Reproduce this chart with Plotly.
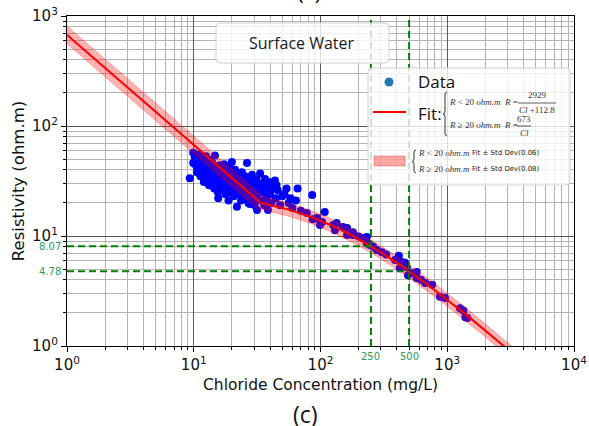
import numpy as np
import plotly.graph_objects as go

# ---------------- data ----------------
chloride = [9.3, 9.9, 9.9, 10.2, 10.4, 10.6, 10.8, 11, 11.1, 11.3, 11.5, 11.6, 11.8, 12, 12, 12.2,
            12.4, 12.5, 12.7, 12.9, 13, 13.2, 13.3, 13.5, 13.7, 13.9, 14, 14.2, 14.3, 14.5, 14.7,
            14.8, 15, 15.2, 15.3, 15.5, 15.6, 15.8, 16, 16.1, 16.3, 16.5, 16.7, 16.9, 17, 17.2,
            17.4, 17.6, 17.8, 18, 18.2, 18.4, 18.6, 18.8, 19, 19.2, 19.4, 19.6, 19.8, 20, 20.2,
            20.5, 20.7, 21, 21.2, 21.5, 21.9, 22, 22.3, 22.6, 23, 23.3, 23.6, 24, 24.3, 24.6, 25,
            25.4, 25.8, 26.3, 26.5, 27, 27.4, 27.8, 28.3, 28.8, 29.2, 29.7, 30.2, 30.7, 31.2,
            31.6, 32, 32.6, 33.4, 34, 34.6, 35.3, 36, 36.8, 37.5, 38.5, 39, 40, 41, 42, 43.7,
            44.5, 46, 48, 50, 54, 56, 60, 66, 70, 78, 86, 94,
            12.1, 13.1, 14.1, 15.1, 16.2, 17.3, 18.3, 19.3, 20.4, 22.8, 24.8, 26.8, 11.4, 12.8,
            14.6, 16.6, 18.5, 21.4, 23.8, 28.5, 40.5, 45, 52, 58, 64, 36.5, 31, 27.6,
            87, 99, 103, 108, 126, 130, 134, 150, 162, 162, 180, 180, 200, 217, 232, 232, 245,
            260, 278, 305, 330, 387, 415, 423, 440, 450, 465, 480, 490, 520, 574, 574, 620, 670,
            760, 875, 960, 1260, 1340, 1390, 1440]
resistivity = [33.5, 57, 46, 52, 44, 38, 48, 41, 55, 35, 45, 50, 39, 42, 31, 47,
               36, 53, 40, 33, 44, 29, 49, 38, 42, 34, 46, 31, 39, 27, 54,
               43, 36, 30, 40, 25, 22, 34, 44, 38, 28, 32, 41, 26, 36, 30,
               45, 33, 24, 39, 28, 35, 31, 21, 42, 27, 33, 37, 25, 47, 30,
               35, 23, 28, 40, 32, 18.4, 26, 36, 29, 24, 33, 21, 38, 27, 30, 23,
               35, 25, 46, 29, 20, 32, 24, 27, 36, 22, 30, 19, 26, 33,
               17.2, 24, 28, 37, 21, 30, 25, 19, 27, 22, 17.2, 31, 24, 20, 28, 32,
               22, 26, 19, 23, 27, 20, 18, 27, 17, 16.2, 23.6, 14.6,
               37, 35, 33, 31, 29, 27, 26, 25, 27, 25, 22, 22, 40, 38,
               35, 33, 30, 28, 26, 23, 26, 29, 24, 22, 21, 33, 21, 19.5,
               14.2, 12.6, 13.4, 16.5, 12.6, 11.3, 13.1, 12.1, 10.2, 11.8, 10.2, 10.8, 9.9, 9.6,
               9.8, 8.6, 8.3, 8.0, 7.45, 7.1, 6.8, 6.05, 6.6, 5.1, 5.8, 5.4, 5.7, 5.2, 4.4, 4.6,
               4.7, 4.15, 4.0, 3.74, 3.6, 2.8, 2.73, 2.2, 2.1, 1.83, 1.8]

# fit parameters (from legend)
fit_high_num = 673.0          # R >= 20: R = 673 / Cl
fit_low_num = 2929.0          # R < 20 : R = 2929 / (Cl + 112.8)
fit_low_off = 112.8
r_split = 20.0
sd_low = 0.06
sd_high = 0.08

# thresholds
cl_thresholds = [250, 500]
r_thresholds = [8.07, 4.78]
r_threshold_labels = ["8.07", "4.78"]
cl_threshold_labels = ["250", "500"]

x_ticks = [1, 10, 100, 1000, 10000]
x_ticktext = ["10<sup>0</sup>", "10<sup>1</sup>", "10<sup>2</sup>", "10<sup>3</sup>", "10<sup>4</sup>"]
y_ticks = [1, 10, 100, 1000]
y_ticktext = ["10<sup>0</sup>", "10<sup>1</sup>", "10<sup>2</sup>", "10<sup>3</sup>"]

# ---------------- fit curve ----------------
cl_split = fit_high_num / r_split
cl_a = np.logspace(0, np.log10(cl_split), 120)
cl_b = np.logspace(np.log10(cl_split), 4, 200)
fit_a = fit_high_num / cl_a
fit_b = fit_low_num / (cl_b + fit_low_off)
cl_fit = np.concatenate([cl_a, cl_b])
r_fit = np.concatenate([fit_a, fit_b])
up = np.concatenate([fit_a * 10 ** sd_high, fit_b * 10 ** sd_low])
lo = np.concatenate([fit_a * 10 ** -sd_high, fit_b * 10 ** -sd_low])

fig = go.Figure()
fig.add_trace(go.Scatter(x=chloride, y=resistivity, mode="markers",
                         marker=dict(color="#0000ff", size=8, line=dict(width=0)),
                         showlegend=False))
fig.add_trace(go.Scatter(x=np.concatenate([cl_fit, cl_fit[::-1]]),
                         y=np.concatenate([up, lo[::-1]]),
                         mode="lines", fill="toself",
                         fillcolor="rgba(255,0,0,0.3)",
                         line=dict(color="rgba(255,0,0,0.25)", width=1),
                         showlegend=False, hoverinfo="skip"))
fig.add_trace(go.Scatter(x=cl_fit, y=r_fit, mode="lines",
                         line=dict(color="#ff0000", width=2), showlegend=False))

green = "#008000"
for c in cl_thresholds:
    fig.add_trace(go.Scatter(x=[c, c], y=[1, 1000], mode="lines",
                             line=dict(color=green, width=2, dash="7px,4px"),
                             showlegend=False))
for c, r in zip(cl_thresholds, r_thresholds):
    fig.add_trace(go.Scatter(x=[1, c], y=[r, r], mode="lines",
                             line=dict(color=green, width=2, dash="7px,4px"),
                             showlegend=False))

# ---------------- layout helpers ----------------
X0, X1, YB, YT = 67, 574, 346, 16
def px(x):
    return (x - X0) / (X1 - X0)
def py(y):
    return (YB - y) / (YB - YT)

def rounded_rect(x0, y0, x1, y1, r=4):
    a, b, c, d = px(x0), px(x1), py(y0), py(y1)
    rx = r / (X1 - X0)
    ry = r / (YB - YT)
    return (f"M {a+rx},{c} L {b-rx},{c} Q {b},{c} {b},{c-ry} L {b},{d+ry} Q {b},{d} {b-rx},{d} "
            f"L {a+rx},{d} Q {a},{d} {a},{d+ry} L {a},{c-ry} Q {a},{c} {a+rx},{c} Z")

def brace(x, yt, yb, w=4):
    ym = (yt + yb) / 2
    d = 3
    pts = [(x + w, yt), (x + w / 2, yt), (x + w / 2, yt + d), (x + w / 2, ym - d),
           (x + w / 2, ym), (x, ym), (x + w / 2, ym), (x + w / 2, ym + d),
           (x + w / 2, yb - d), (x + w / 2, yb), (x + w, yb)]
    P = [(px(a), py(b)) for a, b in pts]
    return (f"M {P[0][0]},{P[0][1]} Q {P[1][0]},{P[1][1]} {P[2][0]},{P[2][1]} "
            f"L {P[3][0]},{P[3][1]} Q {P[4][0]},{P[4][1]} {P[5][0]},{P[5][1]} "
            f"Q {P[6][0]},{P[6][1]} {P[7][0]},{P[7][1]} L {P[8][0]},{P[8][1]} "
            f"Q {P[9][0]},{P[9][1]} {P[10][0]},{P[10][1]}")

shapes = []
annotations = []

def text(x, y, s, size, family="Open Sans", color="#111", xanchor="left", italic=False):
    if italic:
        s = f"<i>{s}</i>"
    annotations.append(dict(x=px(x), y=py(y), xref="paper", yref="paper", text=s,
                            showarrow=False, xanchor=xanchor, yanchor="middle",
                            borderpad=0,
                            font=dict(size=size, family=family, color=color)))

# Surface Water box
shapes.append(dict(type="path", path=rounded_rect(216, 23, 389, 63), xref="paper", yref="paper",
                   fillcolor="rgba(255,255,255,0.8)", line=dict(color="#d0d0d0", width=1),
                   layer="above"))
text(302, 43, "Surface Water", 16, xanchor="center", color="#1a1a1a")

# Legend box
shapes.append(dict(type="path", path=rounded_rect(368, 68, 570, 185), xref="paper", yref="paper",
                   fillcolor="rgba(255,255,255,0.8)", line=dict(color="#d0d0d0", width=1),
                   layer="above"))
# data symbol
shapes.append(dict(type="circle", xref="paper", yref="paper", x0=px(384.5), x1=px(393.5),
                   y0=py(86.5), y1=py(77.5), fillcolor="#1f77b4", line=dict(width=0), layer="above"))
text(417, 81, "Data", 17)
# fit symbol
shapes.append(dict(type="line", xref="paper", yref="paper", x0=px(373), x1=px(406),
                   y0=py(112), y1=py(112), line=dict(color="#ff0000", width=2), layer="above"))
text(417, 113, "Fit:", 17)
shapes.append(dict(type="path", path=brace(443, 92, 136), xref="paper", yref="paper",
                   line=dict(color="#333", width=1), layer="above"))
serif = "Liberation Serif"
text(448, 102, "R</i> &lt; 20 <i>ohm.m", 9, family=serif, italic=True, color="#333")
text(503, 102, "R</i> =", 9, family=serif, italic=True, color="#333")
text(537, 95, "2929", 9, family=serif, xanchor="center", color="#333")
shapes.append(dict(type="line", xref="paper", yref="paper", x0=px(518), x1=px(556),
                   y0=py(103), y1=py(103), line=dict(color="#333", width=0.8), layer="above"))
text(537, 110, "Cl</i> +112.8<i>", 9, family=serif, xanchor="center", italic=True, color="#333")
text(448, 125, "R</i> ≥ 20 <i>ohm.m", 9, family=serif, italic=True, color="#333")
text(503, 125, "R</i> =", 9, family=serif, italic=True, color="#333")
text(524, 119, "673", 9, family=serif, xanchor="center", color="#333")
shapes.append(dict(type="line", xref="paper", yref="paper", x0=px(517), x1=px(531),
                   y0=py(126), y1=py(126), line=dict(color="#333", width=0.8), layer="above"))
text(524, 133, "Cl", 9, family=serif, xanchor="center", italic=True, color="#333")
# band symbol
shapes.append(dict(type="rect", xref="paper", yref="paper", x0=px(374), x1=px(405),
                   y0=py(166), y1=py(156), fillcolor="rgba(255,0,0,0.35)",
                   line=dict(color="rgba(255,0,0,0.3)", width=1), layer="above"))
shapes.append(dict(type="path", path=brace(412, 150, 173, w=4), xref="paper", yref="paper",
                   line=dict(color="#333", width=1), layer="above"))
text(417, 153, "R</i> &lt; 20 <i>ohm.m", 9, family=serif, italic=True, color="#333")
text(471, 153, "Fit ± Std Dev(0.06)", 7, family="DejaVu Sans", color="#222")
text(417, 169, "R</i> ≥ 20 <i>ohm.m", 9, family=serif, italic=True, color="#333")
text(471, 169, "Fit ± Std Dev(0.08)", 7, family="DejaVu Sans", color="#222")

# green threshold labels
lab_green = "#2e9a5a"
for r, lab in zip(r_thresholds, r_threshold_labels):
    annotations.append(dict(x=0, y=np.log10(r), xref="paper", yref="y", text=lab,
                            showarrow=False, xanchor="right", yanchor="middle", xshift=-4,
                            font=dict(size=10, family="DejaVu Sans", color=lab_green)))
for c, lab in zip(cl_thresholds, cl_threshold_labels):
    annotations.append(dict(x=np.log10(c), y=0, xref="x", yref="paper", text=lab,
                            showarrow=False, xanchor="center", yanchor="top", yshift=-3,
                            font=dict(size=10, family="DejaVu Sans", color=lab_green)))

# panel labels
annotations.append(dict(x=px(305), y=py(414), xref="paper", yref="paper", text="(c)",
                        showarrow=False, xanchor="center", yanchor="middle",
                        font=dict(size=23, family="Open Sans", color="#111")))
annotations.append(dict(x=px(309), y=py(-10), xref="paper", yref="paper", text="(c)",
                        showarrow=False, xanchor="center", yanchor="middle",
                        font=dict(size=23, family="Open Sans", color="#111")))

minor_x = [k * 10 ** d for d in range(0, 4) for k in range(2, 10)]
minor_y = [k * 10 ** d for d in range(0, 3) for k in range(2, 10)]

axis_common = dict(type="log", showline=True, linecolor="#000", linewidth=1.3, mirror=True,
                   ticks="outside", ticklen=5, tickwidth=1.2, tickcolor="#000",
                   showgrid=True, gridcolor="#5a5a5a", gridwidth=1, zeroline=False,
                   tickfont=dict(family="DejaVu Sans", size=15, color="#111"),
                   tickmode="array", automargin=False)

fig.update_layout(
    width=589, height=426,
    margin=dict(l=X0, r=589 - X1, t=YT, b=426 - YB, autoexpand=False),
    paper_bgcolor="white", plot_bgcolor="white",
    showlegend=False,
    xaxis=dict(**axis_common, range=[0, 4], tickvals=x_ticks, ticktext=x_ticktext,
               title=dict(text="Chloride Concentration (mg/L)", standoff=5,
                          font=dict(family="DejaVu Sans", size=15.5, color="#111")),
               minor=dict(tickmode="array", tickvals=minor_x, ticks="outside", ticklen=3,
                          tickcolor="#000", showgrid=True, gridcolor="#b4b4b4", gridwidth=1)),
    yaxis=dict(**axis_common, range=[0, 3], tickvals=y_ticks, ticktext=y_ticktext,
               title=dict(text="Resistivity (ohm.m)", standoff=3,
                          font=dict(family="DejaVu Sans", size=16.5, color="#111")),
               minor=dict(tickmode="array", tickvals=minor_y, ticks="outside", ticklen=3,
                          tickcolor="#000", showgrid=True, gridcolor="#b4b4b4", gridwidth=1)),
    shapes=shapes,
    annotations=annotations,
)

fig.write_html("out.html", config={"displayModeBar": False},
               post_script="document.body.style.margin='0';document.body.style.overflow='hidden';")
